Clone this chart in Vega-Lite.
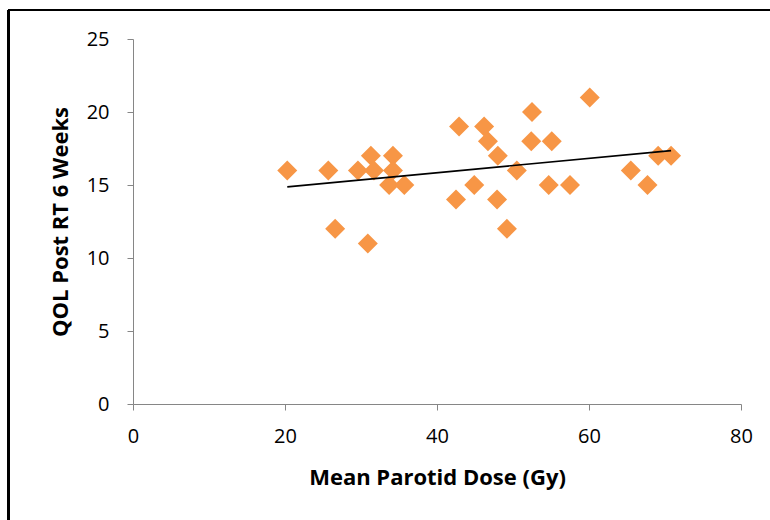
{
  "$schema": "https://vega.github.io/schema/vega-lite/v6.json",
  "autosize": "none",
  "width": 608,
  "height": 365,
  "padding": {"left": 133, "top": 39, "right": 29, "bottom": 116},
  "background": "white",
  "config": {
    "view": {"stroke": null},
    "font": "Open Sans",
    "axis": {
      "grid": false,
      "labelFlush": false,
      "domainColor": "#868686",
      "tickColor": "#868686",
      "tickSize": 6,
      "labelFontSize": 20,
      "labelColor": "#000000",
      "labelFont": "Open Sans",
      "titleFont": "Open Sans",
      "titleFontSize": 22,
      "titleFontWeight": "bold",
      "titleColor": "#000000"
    }
  },
  "data": {
    "values": [
      {"dose": 20.3, "qol": 16},
      {"dose": 25.7, "qol": 16},
      {"dose": 26.6, "qol": 12},
      {"dose": 29.6, "qol": 16},
      {"dose": 30.9, "qol": 11},
      {"dose": 31.3, "qol": 17},
      {"dose": 31.7, "qol": 16},
      {"dose": 33.7, "qol": 15},
      {"dose": 34.2, "qol": 17},
      {"dose": 34.2, "qol": 16},
      {"dose": 35.7, "qol": 15},
      {"dose": 42.5, "qol": 14},
      {"dose": 42.9, "qol": 19},
      {"dose": 44.9, "qol": 15},
      {"dose": 46.2, "qol": 19},
      {"dose": 46.7, "qol": 18},
      {"dose": 48.0, "qol": 17},
      {"dose": 47.9, "qol": 14},
      {"dose": 49.2, "qol": 12},
      {"dose": 50.5, "qol": 16},
      {"dose": 52.5, "qol": 20},
      {"dose": 52.4, "qol": 18},
      {"dose": 54.7, "qol": 15},
      {"dose": 55.1, "qol": 18},
      {"dose": 57.5, "qol": 15},
      {"dose": 60.1, "qol": 21},
      {"dose": 65.5, "qol": 16},
      {"dose": 67.7, "qol": 15},
      {"dose": 69.1, "qol": 17},
      {"dose": 70.8, "qol": 17}
    ]
  },
  "layer": [
    {
      "mark": {"type": "point", "shape": "diamond", "filled": true, "size": 400, "color": "#F79646", "opacity": 1},
      "encoding": {
        "x": {
          "field": "dose", "type": "quantitative",
          "scale": {"domain": [0, 80], "nice": false, "zero": true},
          "axis": {"values": [0, 20, 40, 60, 80], "title": "Mean Parotid Dose (Gy)", "labelPadding": 16, "titlePadding": 21}
        },
        "y": {
          "field": "qol", "type": "quantitative",
          "scale": {"domain": [0, 25], "nice": false},
          "axis": {"values": [0, 5, 10, 15, 20, 25], "title": "QOL Post RT 6 Weeks", "labelPadding": 18, "titlePadding": 14}
        }
      }
    },
    {
      "transform": [{"regression": "qol", "on": "dose"}],
      "mark": {"type": "line", "color": "#000000", "strokeWidth": 1.6},
      "encoding": {
        "x": {"field": "dose", "type": "quantitative"},
        "y": {"field": "qol", "type": "quantitative"}
      }
    },
    {
      "mark": {"type": "rule", "color": "#000000", "strokeWidth": 2, "clip": false},
      "encoding": {
        "x": {"datum": -16.4, "type": "quantitative"},
        "x2": {"datum": 86},
        "y": {"datum": 26.99, "type": "quantitative"}
      }
    },
    {
      "mark": {"type": "rule", "color": "#000000", "strokeWidth": 2, "clip": false},
      "encoding": {
        "x": {"datum": -16.4, "type": "quantitative"},
        "y": {"datum": 26.99, "type": "quantitative"},
        "y2": {"datum": -9}
      }
    }
  ]
}
